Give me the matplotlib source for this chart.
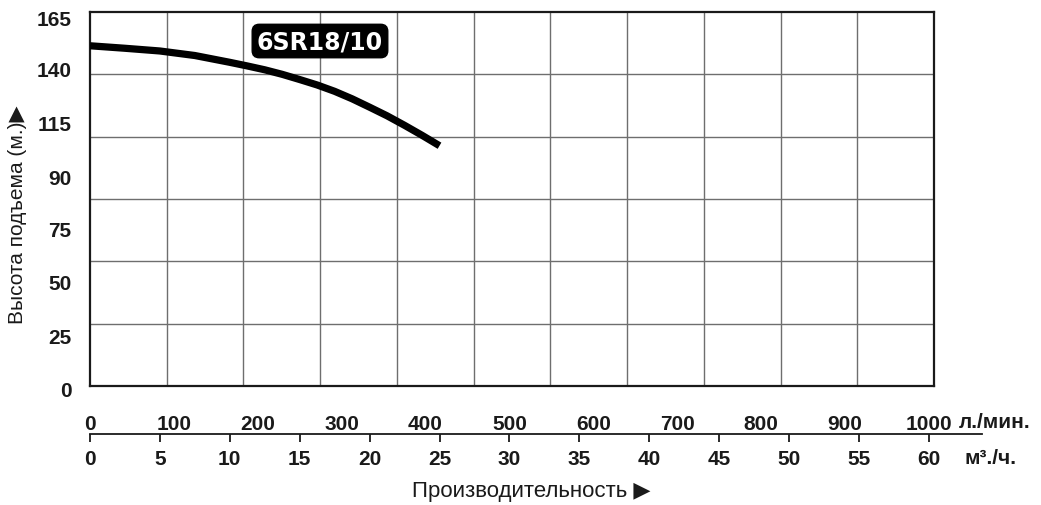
import numpy as np
import matplotlib.pyplot as plt

plt.rcParams['font.family'] = ['Liberation Sans', 'DejaVu Sans']

# кривая насоса 6SR18/10 (расход м3/ч, напор м)
flow_m3h = [0, 2.5, 5, 7.5, 10, 11.25, 12.5, 13.75, 15, 16.25, 17.5, 18.75,
            20, 21.25, 22.5, 23.75, 25]
head_m = [150.1, 149.0, 147.8, 145.8, 142.8, 141.2, 139.5, 137.5, 135.2, 132.8,
          130.0, 126.7, 123.0, 119.2, 115.0, 110.6, 106.0]

# подписи оси Y (стоят не точно на своих значениях, как в оригинале)
y_labels = ['165', '140', '115', '90', '75', '50', '25', '0']
y_label_pos = [161.9, 139.0, 115.2, 91.4, 68.4, 45.0, 21.6, -2.2]

m3h_ticks = [0, 5, 10, 15, 20, 25, 30, 35, 40, 45, 50, 55, 60]
lmin_ticks = [0, 100, 200, 300, 400, 500, 600, 700, 800, 900, 1000]

W, H = 1041, 506
fig = plt.figure(figsize=(W / 100, H / 100), dpi=100)

x0, x1 = 90, 934
y0, y1 = 387, 13
ax = fig.add_axes([x0 / W, 1 - y0 / H, (x1 - x0) / W, (y0 - y1) / H])
xmax = 60.37
ax.set_xlim(0, xmax)
ax.set_ylim(0, 165)

# сетка: 11 колонок и 6 рядов
ax.set_xticks([i * xmax / 11 for i in range(1, 11)])
ax.set_yticks([i * 165 / 6 for i in range(1, 6)])
ax.tick_params(length=0, labelbottom=False, labelleft=False)
ax.grid(True, color='#6e6e6e', lw=1.0)
for s in ax.spines.values():
    s.set_linewidth(1.6)
    s.set_color('#1a1a1a')

ax.plot(flow_m3h, head_m, color='black', lw=5.2, solid_capstyle='butt',
        solid_joinstyle='round', zorder=3)

ax.text(16.45, 152.2, '6SR18/10', color='white', fontsize=17, fontweight='bold',
        family='DejaVu Sans', ha='center', va='center', zorder=4,
        bbox=dict(boxstyle='round,pad=0.2,rounding_size=0.3', fc='black', ec='black'))

for lab, pos in zip(y_labels, y_label_pos):
    ax.text(-0.022, pos, lab, transform=ax.get_yaxis_transform(), ha='right', va='center',
            fontsize=15, fontweight='bold', color='#1a1a1a', clip_on=False)

fig.text(18 / W, 1 - 215 / H, 'Высота подъема (м.)\u25B6', rotation=90, ha='center', va='center',
         fontsize=15, color='#1a1a1a')

# нижняя шкала расхода
sx1 = 982
axs = fig.add_axes([x0 / W, 1 - 435 / H, (sx1 - x0) / W, 0.0001])
axs.set_xlim(0, (sx1 - x0) / 13.98)
for k in ['top', 'left', 'right']:
    axs.spines[k].set_visible(False)
axs.spines['bottom'].set_linewidth(1.3)
axs.spines['bottom'].set_color('#1a1a1a')
axs.set_yticks([])
axs.set_xticks(m3h_ticks)
axs.set_xticklabels([str(v) for v in m3h_ticks], fontsize=15, fontweight='bold', color='#1a1a1a')
axs.tick_params(axis='x', direction='out', length=6, width=1.3, color='#1a1a1a', pad=5)

sec = axs.secondary_xaxis('top', functions=(lambda q: q / 0.06, lambda l: l * 0.06))
sec.set_xticks(lmin_ticks)
sec.set_xticklabels([str(v) for v in lmin_ticks], fontsize=15, fontweight='bold', color='#1a1a1a')
sec.tick_params(axis='x', length=0, pad=1)
sec.spines['top'].set_visible(False)

fig.text(959 / W, 1 - 423 / H, 'л./мин.', ha='left', va='center', fontsize=15,
         fontweight='bold', color='#1a1a1a')
fig.text(964 / W, 1 - 459 / H, 'м³./ч.', ha='left', va='center', fontsize=15,
         fontweight='bold', color='#1a1a1a')

fig.text(531 / W, 1 - 492 / H, 'Производительность \u25B6', ha='center', va='center',
         fontsize=16, color='#1a1a1a')

fig.savefig('out.png', dpi=100, facecolor='white')
